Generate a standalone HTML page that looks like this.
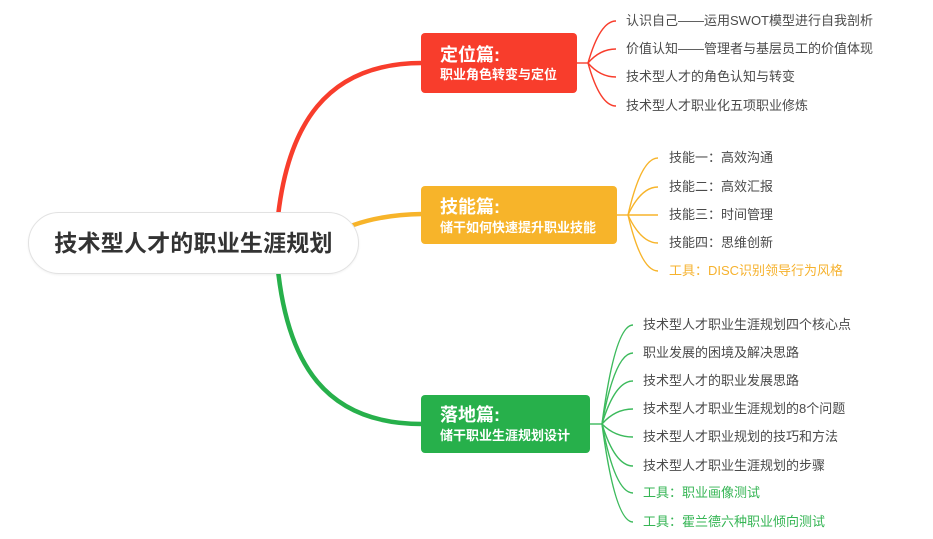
<!DOCTYPE html>
<html>
<head>
<meta charset="utf-8">
<style>
  html,body{margin:0;padding:0;background:#fff;}
  #wrap{position:relative;width:933px;height:539px;overflow:hidden;background:#fff;
    font-family:"Liberation Sans","Noto Sans CJK SC",sans-serif;}
  svg{position:absolute;left:0;top:0;}
  .center{position:absolute;left:28px;top:212px;width:329px;height:60px;border:1px solid #e2e2e2;
    border-radius:31px;background:#fff;box-shadow:0 1px 2px rgba(0,0,0,0.06);}
  .ctext{position:absolute;left:28px;top:228px;width:331px;text-align:center;font-size:23px;font-weight:bold;
    color:#333;line-height:30px;letter-spacing:0.2px;}
  .box{position:absolute;border-radius:4px;color:#fff;}
  .t1{position:absolute;left:19px;font-size:18px;font-weight:bold;line-height:22px;white-space:nowrap;}
  .t2{position:absolute;left:19px;font-size:13px;font-weight:bold;line-height:16px;white-space:nowrap;}
  .c{position:absolute;font-size:13px;line-height:16px;color:#4a4a4a;white-space:nowrap;}
  .y{color:#f6b22e;}
  .g{color:#35b554;}
</style>
</head>
<body>
<div id="wrap">
<svg width="933" height="539" viewBox="0 0 933 539">
  <!-- main branches -->
  <path d="M 276 240 C 283 120, 330 63, 422 63" fill="none" stroke="#f83d2c" stroke-width="4.5" stroke-linecap="round"/>
  <path d="M 330 236 Q 365 215, 422 214" fill="none" stroke="#f7b42a" stroke-width="4.5" stroke-linecap="round"/>
  <path d="M 276 246 C 283 370, 330 424, 422 424" fill="none" stroke="#27b04b" stroke-width="4.5" stroke-linecap="round"/>

  <!-- red children -->
  <g fill="none" stroke="#f83d2c" stroke-width="1.4">
    <path d="M 576 63 L 588 63"/>
    <path d="M 588 63 Q 600 21, 616 21"/>
    <path d="M 588 63 Q 600 49, 616 49"/>
    <path d="M 588 63 Q 600 77, 616 77"/>
    <path d="M 588 63 Q 600 106, 616 106"/>
  </g>
  <!-- yellow children -->
  <g fill="none" stroke="#f7b42a" stroke-width="1.4">
    <path d="M 616 215 L 628 215"/>
    <path d="M 628 215 Q 641 158, 658 158"/>
    <path d="M 628 215 Q 641 187, 658 187"/>
    <path d="M 628 215 L 658 215"/>
    <path d="M 628 215 Q 641 243, 658 243"/>
    <path d="M 628 215 Q 641 271, 658 271"/>
  </g>
  <!-- green children -->
  <g fill="none" stroke="#3cba5c" stroke-width="1.4">
    <path d="M 589 424 L 602 424"/>
    <path d="M 602 424 Q 615 325, 633 325"/>
    <path d="M 602 424 Q 615 353, 633 353"/>
    <path d="M 602 424 Q 615 381, 633 381"/>
    <path d="M 602 424 Q 615 409, 633 409"/>
    <path d="M 602 424 Q 615 437, 633 437"/>
    <path d="M 602 424 Q 615 466, 633 466"/>
    <path d="M 602 424 Q 615 493, 633 493"/>
    <path d="M 602 424 Q 615 522, 633 522"/>
  </g>
</svg>

<div class="center"></div>
<div class="ctext">技术型人才的职业生涯规划</div>

<div class="box" style="left:421px;top:33px;width:156px;height:60px;background:#f83d2c;">
  <div class="t1" style="top:11px;">定位篇:</div>
  <div class="t2" style="top:34px;">职业角色转变与定位</div>
</div>
<div class="box" style="left:421px;top:186px;width:196px;height:58px;background:#f7b42a;">
  <div class="t1" style="top:10px;">技能篇:</div>
  <div class="t2" style="top:34px;">储干如何快速提升职业技能</div>
</div>
<div class="box" style="left:421px;top:395px;width:169px;height:58px;background:#27b04b;">
  <div class="t1" style="top:9px;">落地篇:</div>
  <div class="t2" style="top:33px;">储干职业生涯规划设计</div>
</div>

<!-- red children text -->
<div class="c" style="left:626px;top:13px;">认识自己——运用SWOT模型进行自我剖析</div>
<div class="c" style="left:626px;top:41px;">价值认知——管理者与基层员工的价值体现</div>
<div class="c" style="left:626px;top:69px;">技术型人才的角色认知与转变</div>
<div class="c" style="left:626px;top:98px;">技术型人才职业化五项职业修炼</div>

<!-- yellow children text -->
<div class="c" style="left:669px;top:150px;">技能一：高效沟通</div>
<div class="c" style="left:669px;top:179px;">技能二：高效汇报</div>
<div class="c" style="left:669px;top:207px;">技能三：时间管理</div>
<div class="c" style="left:669px;top:235px;">技能四：思维创新</div>
<div class="c y" style="left:669px;top:263px;">工具：DISC识别领导行为风格</div>

<!-- green children text -->
<div class="c" style="left:643px;top:317px;">技术型人才职业生涯规划四个核心点</div>
<div class="c" style="left:643px;top:345px;">职业发展的困境及解决思路</div>
<div class="c" style="left:643px;top:373px;">技术型人才的职业发展思路</div>
<div class="c" style="left:643px;top:401px;">技术型人才职业生涯规划的8个问题</div>
<div class="c" style="left:643px;top:429px;">技术型人才职业规划的技巧和方法</div>
<div class="c" style="left:643px;top:458px;">技术型人才职业生涯规划的步骤</div>
<div class="c g" style="left:643px;top:485px;">工具：职业画像测试</div>
<div class="c g" style="left:643px;top:514px;">工具：霍兰德六种职业倾向测试</div>
</div>
</body>
</html>
